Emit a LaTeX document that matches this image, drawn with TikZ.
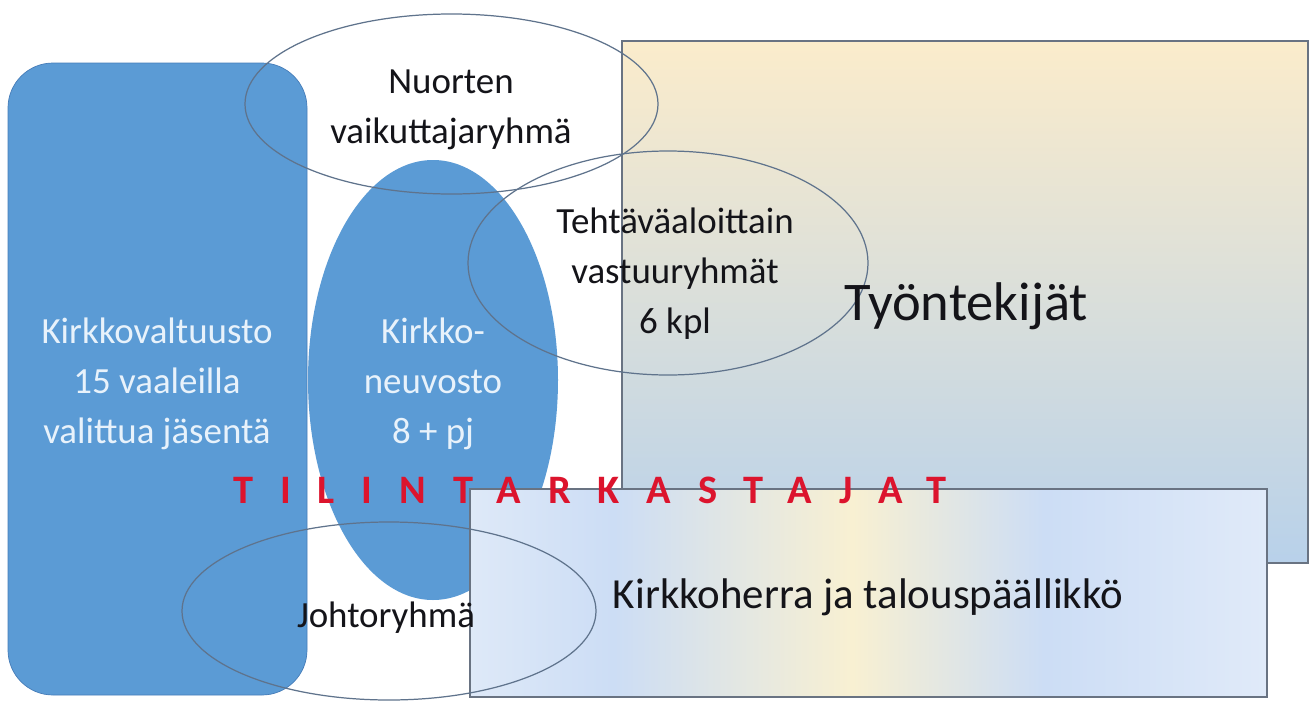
\documentclass[tikz,border=0pt]{standalone}
\usepackage{fontspec}
\setmainfont{Carlito}
\definecolor{bluefill}{RGB}{91,155,213}
\definecolor{blueedge}{RGB}{70,125,185}
\definecolor{lineclr}{RGB}{95,115,140}
\definecolor{rectedge}{RGB}{105,115,130}
\definecolor{ttop}{RGB}{251,236,203}
\definecolor{tbot}{RGB}{184,209,234}
\definecolor{redtxt}{RGB}{220,20,45}
\definecolor{lighttxt}{RGB}{232,242,251}
\definecolor{darktxt}{RGB}{20,20,25}
\definecolor{kA}{RGB}{222,233,248}
\definecolor{kB}{RGB}{204,221,245}
\definecolor{kC}{RGB}{248,240,210}
\definecolor{kD}{RGB}{224,234,249}
\pgfdeclarehorizontalshading{kirkkoshade}{100bp}{color(0bp)=(kA); color(25bp)=(kA); color(34bp)=(kB); color(49bp)=(kC); color(61bp)=(kB); color(75bp)=(kD); color(100bp)=(kD)}
\tikzset{
  bodytxt/.style={font=\fontsize{21}{28.4}\selectfont, align=center, inner sep=0pt, text=darktxt},
  lighttext/.style={bodytxt, text=lighttxt},
  outl/.style={draw=lineclr, line width=0.7pt},
  boxedge/.style={draw=rectedge, line width=0.8pt},
}
\begin{document}
\begin{tikzpicture}[x=0.02cm, y=-0.02cm]
\useasboundingbox (0,0) rectangle (1312,700);
\fill[white] (0,0) rectangle (1312,700);
% Kirkkovaltuusto
\path[fill=bluefill, draw=blueedge, line width=0.4pt, rounded corners=0.9cm] (8,63) rectangle (307,695);
% Tyontekijat
\path[top color=ttop, bottom color=tbot, boxedge] (622,41) rectangle (1308,563);
% Kirkkoneuvosto
\fill[bluefill] (433,380) ellipse [x radius=125, y radius=220];
% Nuorten vaikuttajaryhma
\draw[outl] (451.5,104) ellipse [x radius=206.5, y radius=90];
% Tehtavaaloittain
\draw[outl] (668,263) ellipse [x radius=200, y radius=112];
% Kirkkoherra ja talouspaallikko
\path[shading=kirkkoshade, boxedge] (470,489) rectangle (1267,697);
% Johtoryhma
\draw[outl] (389,611) ellipse [x radius=207, y radius=89];

\node[bodytxt, anchor=base] (nuorten) at (451,143) {Nuorten\\vaikuttajaryhmä};
\node[bodytxt, anchor=base] (tehtava) at (675,333) {Tehtäväaloittain\\vastuuryhmät\\6 kpl};
\node[bodytxt, font=\fontsize{31}{36}\selectfont, anchor=base] (tyontekijat) at (966,320) {Työntekijät};
\node[lighttext, anchor=base] (valtuusto) at (157,443) {Kirkkovaltuusto\\15 vaaleilla\\valittua jäsentä};
\node[lighttext, anchor=base] (neuvosto) at (433,443) {Kirkko-\\neuvosto\\8 + pj};
\node[bodytxt, anchor=base] (johto) at (386,627) {Johtoryhmä};
\node[bodytxt, font=\fontsize{24.4}{29}\selectfont, anchor=base] (kirkkoherra) at (868,608) {Kirkkoherra ja talouspäällikkö};
\node[inner sep=0pt, anchor=base west, text=redtxt, font=\fontsize{23}{27}\bfseries\addfontfeature{LetterSpace=66.5}] (tilintark) at (233,503) {TILINTARKASTAJAT};
\end{tikzpicture}
\end{document}
